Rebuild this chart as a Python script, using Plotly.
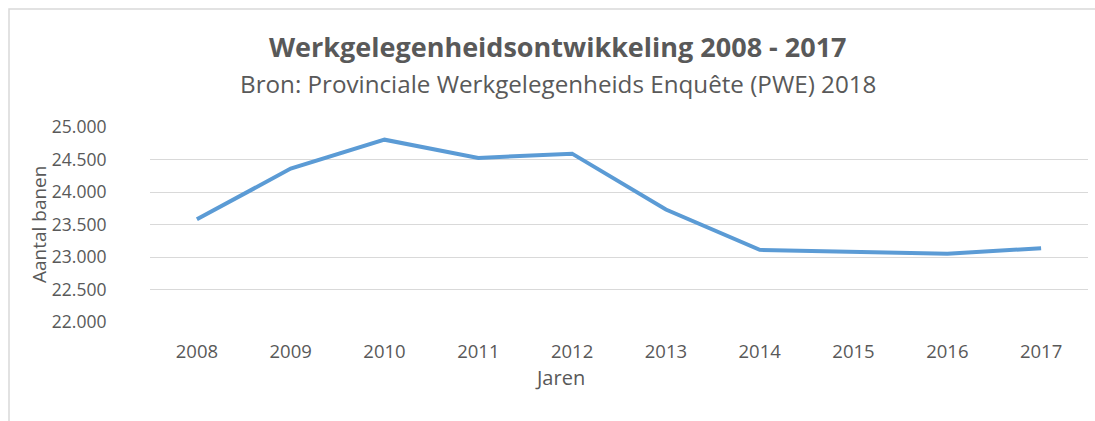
import plotly.graph_objects as go

years = ["2008", "2009", "2010", "2011", "2012", "2013", "2014", "2015", "2016", "2017"]
banen = [23580, 24360, 24805, 24525, 24590, 23730, 23110, 23080, 23050, 23135]
y_ticks = [22000, 22500, 23000, 23500, 24000, 24500, 25000]
y_ticklabels = ["22.000", "22.500", "23.000", "23.500", "24.000", "24.500", "25.000"]

W, H = 1095, 421
L, R, T, B = 150, 7, 127, 99
PW, PH = W - L - R, H - T - B

def px(x):
    return (x - L) / PW

def py(y):
    return (H - B - y) / PH

FONT = "Open Sans"
GRAY = "#595959"

fig = go.Figure()
fig.add_trace(go.Scatter(
    x=years, y=banen, mode="lines",
    line=dict(color="#5b9bd5", width=4),
    showlegend=False, hoverinfo="x+y",
))

fig.update_layout(
    width=W, height=H,
    margin=dict(l=L, r=R, t=T, b=B),
    paper_bgcolor="white", plot_bgcolor="white",
    font=dict(family=FONT, color=GRAY, size=18),
    xaxis=dict(
        type="category", range=[-0.5, 9.5],
        showgrid=False, zeroline=False, showline=False,
        ticks="outside", ticklen=13, tickcolor="rgba(0,0,0,0)",
        tickfont=dict(size=18.5, color=GRAY, family=FONT),
    ),
    yaxis=dict(
        range=[22000, 25000], tickvals=y_ticks, ticktext=y_ticklabels,
        showgrid=True, gridcolor="#d9d9d9", gridwidth=1,
        zeroline=False, showline=False,
        ticks="outside", ticklen=39, tickcolor="rgba(0,0,0,0)",
        tickfont=dict(size=17.5, color=GRAY, family=FONT),
    ),
    shapes=[dict(
        type="rect", xref="paper", yref="paper",
        x0=px(9), x1=px(W + 20), y0=py(H + 20), y1=py(9),
        line=dict(color="#d9d9d9", width=1.5), fillcolor="rgba(0,0,0,0)",
        layer="below",
    )],
    annotations=[
        dict(text="<b>Werkgelegenheidsontwikkeling 2008 - 2017</b>",
             xref="paper", yref="paper", x=px(558), y=py(47),
             xanchor="center", yanchor="middle", showarrow=False,
             font=dict(size=27, color=GRAY, family=FONT)),
        dict(text="Bron: Provinciale Werkgelegenheids Enquête (PWE) 2018",
             xref="paper", yref="paper", x=px(558), y=py(84),
             xanchor="center", yanchor="middle", showarrow=False,
             font=dict(size=24.2, color=GRAY, family=FONT)),
        dict(text="Jaren",
             xref="paper", yref="paper", x=px(560), y=py(377),
             xanchor="center", yanchor="middle", showarrow=False,
             font=dict(size=20, color=GRAY, family=FONT)),
        dict(text="Aantal banen", textangle=-90,
             xref="paper", yref="paper", x=px(39), y=py(225),
             xanchor="center", yanchor="middle", showarrow=False,
             font=dict(size=19, color=GRAY, family=FONT)),
    ],
)

fig.write_html(
    "out.html",
    config={"displayModeBar": False},
    post_script="document.body.style.margin='0';document.body.style.overflow='hidden';",
)
